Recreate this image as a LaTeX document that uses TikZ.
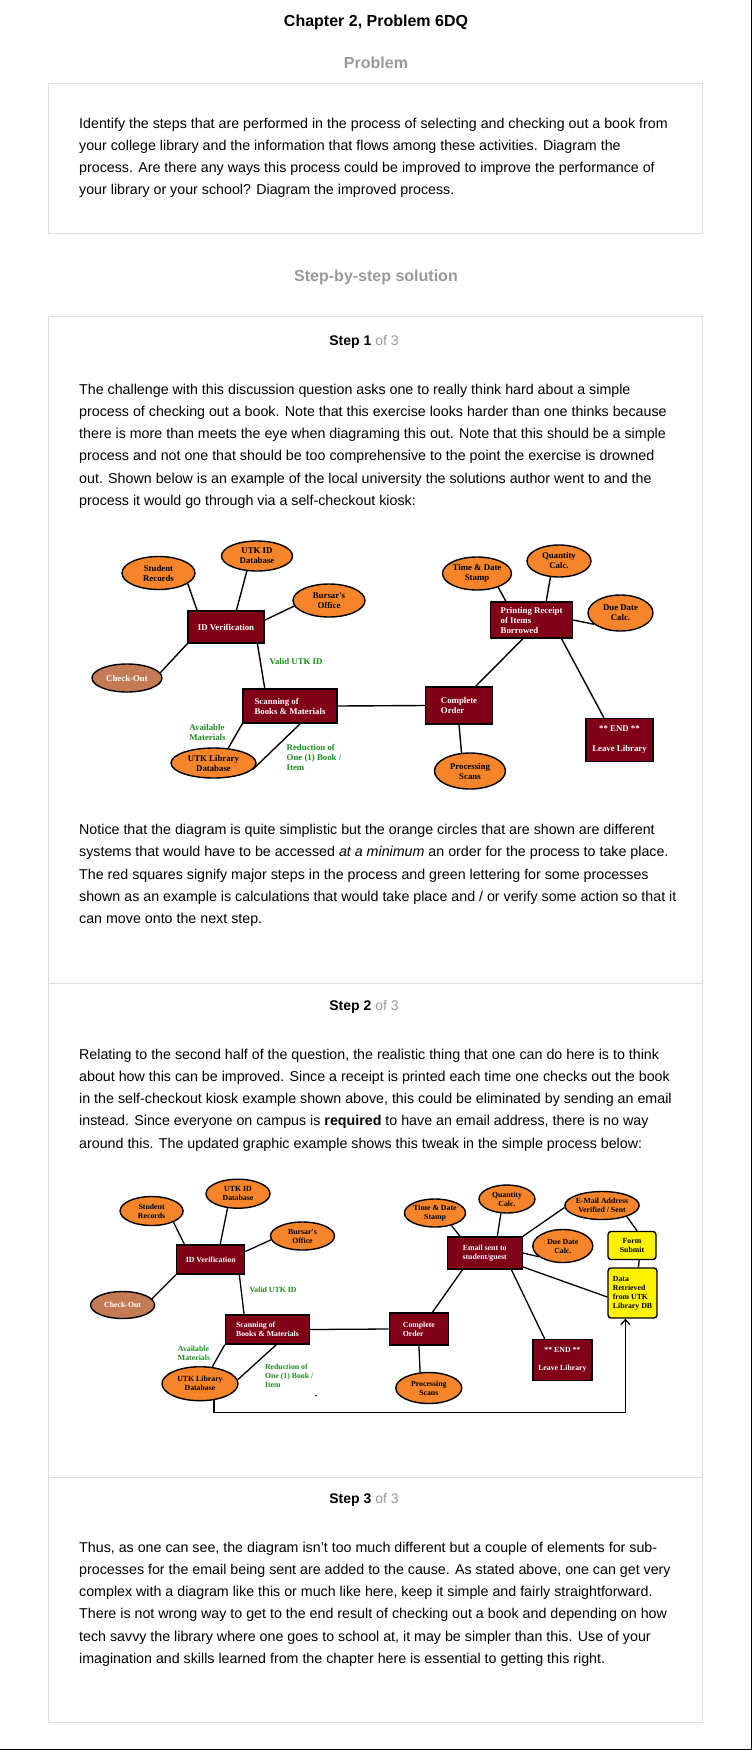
\documentclass[tikz,border=0pt]{standalone}
\usepackage{fontspec}
\setmainfont{Liberation Sans}
\newfontfamily\diagfont{Liberation Serif}
\usepackage{tikz}
\usetikzlibrary{shapes.geometric,arrows.meta}

\definecolor{maroon}{RGB}{128,0,24}
\definecolor{orng}{RGB}{245,132,42}
\definecolor{brwn}{RGB}{194,123,85}
\definecolor{grn}{RGB}{30,140,30}
\definecolor{yel}{RGB}{255,242,0}
\definecolor{hgray}{RGB}{153,153,153}
\definecolor{frame}{RGB}{221,221,221}

\tikzset{
  dfont/.style={font=\diagfont\bfseries\fontsize{8.8}{10}\selectfont},
  sys/.style={ellipse,draw,fill=orng,line width=1.4pt,inner sep=0pt,align=center,dfont},
  task/.style={rectangle,draw,fill=maroon,text=white,line width=1.4pt,inner sep=0pt,align=left,dfont},
  store/.style={rectangle,rounded corners=3pt,draw,fill=yel,line width=1.4pt,inner sep=0pt,align=left,dfont},
  note/.style={text=grn,inner sep=0pt,align=left,dfont},
  para/.style={anchor=base west,align=left,inner sep=0pt,font=\fontsize{14.25}{22.3}\selectfont},
  head/.style={anchor=base,inner sep=0pt,font=\bfseries\fontsize{16}{18}\selectfont},
  link/.style={line width=1.4pt}
}

\begin{document}
\begin{tikzpicture}[x=1pt,y=-1pt]
\useasboundingbox (0,0) rectangle (752,1750);
\fill[white] (0,0) rectangle (752,1750);
\draw[line width=1.5pt] (751.25,0) -- (751.25,1749.25) -- (0,1749.25);

% headings
\node[head] (title) at (376,27) {Chapter 2, Problem 6DQ};
\node[head,text=hgray] (prob) at (376,69) {Problem};
\node[head,text=hgray] (sol) at (376,281) {Step-by-step solution};

% frames
\draw[frame,line width=1pt] (48,84) rectangle (702,233);
\draw[frame,line width=1pt] (48,316) rectangle (702,1722);
\draw[frame,line width=1pt] (48,983) -- (702,983);
\draw[frame,line width=1pt] (48,1477) -- (702,1477);
\foreach \n/\y in {1/345,2/1010,3/1503}
  \node[anchor=base,inner sep=0pt,font=\fontsize{14}{16}\selectfont] (step\n) at (364,\y) {\textbf{Step \n} \textcolor{hgray}{of 3}};

% texts (anchored on the baseline of the last line)
\node[para] (ptext) at (79,194.9) {Identify the steps that are performed in the process of selecting and checking out a book from\\
your college library and the information that flows among these activities. Diagram the\\
process. Are there any ways this process could be improved to improve the performance of\\
your library or your school? Diagram the improved process.};
\node[para] (stext1) at (79,505.5) {The challenge with this discussion question asks one to really think hard about a simple\\
process of checking out a book. Note that this exercise looks harder than one thinks because\\
there is more than meets the eye when diagraming this out. Note that this should be a simple\\
process and not one that should be too comprehensive to the point the exercise is drowned\\
out. Shown below is an example of the local university the solutions author went to and the\\
process it would go through via a self-checkout kiosk:};
\node[para] (stext1b) at (79,923.7) {Notice that the diagram is quite simplistic but the orange circles that are shown are different\\
systems that would have to be accessed \textit{at a minimum} an order for the process to take place.\\
The red squares signify major steps in the process and green lettering for some processes\\
shown as an example is calculations that would take place and / or verify some action so that it\\
can move onto the next step.};
\node[para] (stext2) at (79,1148.2) {Relating to the second half of the question, the realistic thing that one can do here is to think\\
about how this can be improved. Since a receipt is printed each time one checks out the book\\
in the self-checkout kiosk example shown above, this could be eliminated by sending an email\\
instead. Since everyone on campus is \textbf{required} to have an email address, there is no way\\
around this. The updated graphic example shows this tweak in the simple process below:};
\node[para] (stext3) at (79,1663.5) {Thus, as one can see, the diagram isn’t too much different but a couple of elements for sub-\\
processes for the email being sent are added to the cause. As stated above, one can get very\\
complex with a diagram like this or much like here, keep it simple and fairly straightforward.\\
There is not wrong way to get to the end result of checking out a book and depending on how\\
tech savvy the library where one goes to school at, it may be simpler than this. Use of your\\
imagination and skills learned from the chapter here is essential to getting this right.};

% first diagram
\node[sys,minimum width=73pt,minimum height=33pt] (srec) at (158.5,573) {Student\\Records};
\node[sys,minimum width=71pt,minimum height=30pt] (iddb) at (257,556) {UTK ID\\Database};
\node[sys,minimum width=72pt,minimum height=33pt] (bursar) at (329,600.5) {Bursar's\\Office};
\node[task,minimum width=76pt,minimum height=32pt] (idv) at (226,627) {ID Verification};
\node[sys,fill=brwn,text=white,minimum width=70pt,minimum height=28pt] (chk) at (127,678) {Check-Out};
\node[task,minimum width=94pt,minimum height=34pt] (scan) at (290,706) {Scanning of\\Books \& Materials};
\node[sys,minimum width=85pt,minimum height=30pt] (libdb) at (213.5,763) {UTK Library\\Database};
\node[task,minimum width=67pt,minimum height=37pt] (done) at (459,705.5) {Complete\\Order\hspace{14pt}};
\node[sys,minimum width=71pt,minimum height=36pt] (proc) at (470,771) {Processing\\Scans};
\node[task,minimum width=82pt,minimum height=36pt] (print) at (531.6,620) {Printing Receipt\\of Items\\Borrowed};
\node[sys,minimum width=62pt,minimum height=33pt] (stamp) at (477,573.5) {Time \& Date\\Stamp};
\node[sys,minimum width=64pt,minimum height=32pt] (qty) at (559,561) {Quantity\\Calc.};
\node[sys,minimum width=65pt,minimum height=36pt] (due) at (620.5,613) {Due Date\\Calc.};
\node[task,align=center,minimum width=67pt,minimum height=43pt] (bye) at (619.5,740) {** END **\\[10pt]Leave Library};
\node[note] (ok) at (296,662) {Valid UTK ID};
\node[note] (avail) at (207.5,732) {Available\\Materials};
\node[note,anchor=west] (less) at (286.5,757.7) {Reduction of\\One (1) Book /\\Item};

\draw[link] (srec.-20) -- (idv.150);
\draw[link] (iddb.236) -- (idv.58);
\draw[link] (bursar.189) -- (idv.10);
\draw[link] (chk.9) -- (idv.south west);
\draw[link] (idv.-28) -- (scan.145);
\draw[link] (scan.east) -- (done.west);
\draw[link] (scan.south west) -- (libdb.45);
\draw[link] (scan.300) -- (libdb.350);
\draw[link] (done.49) -- (print.245);
\draw[link] (done.south) -- (proc.115);
\draw[link] (print.144) -- (stamp.-33);
\draw[link] (print.52) -- (qty.242);
\draw[link] (print.east) -- (due.203);
\draw[link] (print.-32) -- (bye.125);

% second diagram
\begin{scope}[dfont/.style={font=\diagfont\bfseries\fontsize{7.8}{9}\selectfont},link/.style={line width=1.3pt}]
\node[sys,minimum width=63pt,minimum height=29pt] (srec2) at (151.6,1211) {Student\\Records};
\node[sys,minimum width=64pt,minimum height=29pt] (iddb2) at (238,1193.7) {UTK ID\\Database};
\node[sys,minimum width=64pt,minimum height=28pt] (bursar2) at (302.5,1236) {Bursar's\\Office};
\node[task,minimum width=68pt,minimum height=29pt] (idv2) at (210.7,1259.5) {ID Verification};
\node[sys,fill=brwn,text=white,minimum width=64pt,minimum height=27pt] (chk2) at (122.6,1305) {Check-Out};
\node[task,minimum width=84pt,minimum height=29pt] (scan2) at (267.5,1329.5) {Scanning of\\Books \& Materials};
\node[sys,minimum width=76pt,minimum height=34pt] (libdb2) at (200,1383.7) {UTK Library\\Database};
\node[task,minimum width=59pt,minimum height=32pt] (done2) at (418.9,1329) {Complete\\Order\hspace{12pt}};
\node[sys,minimum width=66pt,minimum height=31pt] (proc2) at (428.8,1388) {Processing\\Scans};
\node[task,align=center,minimum width=75pt,minimum height=32pt] (mail) at (484.7,1253) {Email sent to\\student/guest};
\node[sys,minimum width=56pt,minimum height=28pt] (stamp2) at (435,1213) {Time \& Date\\Stamp};
\node[sys,minimum width=56pt,minimum height=28pt] (qty2) at (507,1199) {Quantity\\Calc.};
\node[sys,minimum width=73pt,minimum height=28pt] (addr) at (602,1205.5) {E-Mail Address\\Verified / Sent};
\node[sys,minimum width=60pt,minimum height=33pt] (due2) at (562.8,1246) {Due Date\\Calc.};
\node[store,align=center,minimum width=48pt,minimum height=28pt] (form) at (632,1245.5) {Form\\Submit};
\node[store,minimum width=49pt,minimum height=50pt] (fetch) at (632.5,1293) {Data\\Retrieved\\from UTK\\Library DB};
\node[task,align=center,minimum width=59pt,minimum height=41pt] (bye2) at (562.4,1360) {** END **\\[8.6pt]Leave Library};
\node[note] (ok2) at (273,1290) {Valid UTK ID};
\node[note] (avail2) at (194,1353) {Available\\Materials};
\node[note,anchor=west] (less2) at (264.8,1375.7) {Reduction of\\One (1) Book /\\Item};
\fill (316,1395.7) circle (0.9pt);
\coordinate (back) at (625.4,1412.3);

\draw[link] (srec2.-27) -- (idv2.150);
\draw[link] (iddb2.234) -- (idv2.58);
\draw[link] (bursar2.187) -- (idv2.13);
\draw[link] (chk2.12) -- (idv2.south west);
\draw[link] (idv2.-28) -- (scan2.147);
\draw[link] (scan2.east) -- (done2.west);
\draw[link] (scan2.south west) -- (libdb2.54);
\draw[link] (scan2.300) -- (libdb2.6);
\draw[link] (done2.south) -- (proc2.119);
\draw[link] (done2.51) -- (mail.217);
\draw[link] (mail.146) -- (stamp2.-37);
\draw[link] (mail.53) -- (qty2.247);
\draw[link] (mail.north east) -- (addr.183);
\draw[link] (mail.east) -- (due2.204);
\draw[link] (mail.-32) -- (bye2.130);
\draw[link] (mail.340) -- (fetch.189);
\draw[link] (addr.336) -- (form.71);
\draw[link] (form.296) -- (fetch.77);
\draw[link,-{Straight Barb[length=5pt,width=9pt]}] (libdb2.310) |- (back) -- (back |- fetch.south);
\end{scope}
\end{tikzpicture}
\end{document}
